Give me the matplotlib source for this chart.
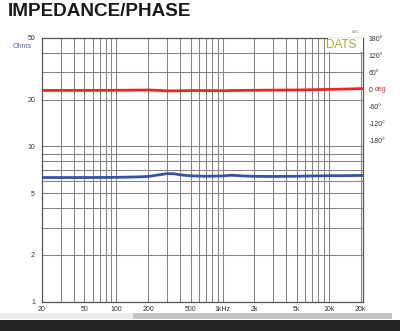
import matplotlib
matplotlib.use("Agg")
import matplotlib.pyplot as plt
from matplotlib.patches import Rectangle
from matplotlib.ticker import FixedLocator, NullLocator

# frequency response
freq = [20, 30, 50, 80, 100, 150, 200, 250, 300, 350, 400, 500, 700,
        1000, 1200, 1500, 2000, 3000, 5000, 7000, 10000, 15000, 21000]
impedance = [6.30, 6.30, 6.30, 6.31, 6.32, 6.35, 6.40, 6.55, 6.68, 6.66,
             6.56, 6.46, 6.42, 6.45, 6.52, 6.46, 6.41, 6.40, 6.42, 6.45,
             6.47, 6.48, 6.50]
phase = [-1.5, -1.5, -1.5, -1.2, -1.0, -0.5, 0.0, -1.5, -3.0, -3.2,
         -2.8, -2.0, -2.0, -2.5, -2.0, -1.5, -1.0, -0.5, 0.0, 1.0,
         2.0, 3.5, 5.0]

x_ticks = [20, 50, 100, 200, 500, 1000, 2000, 5000, 10000, 20000]
x_labels = ["20", "50", "100", "200", "500", "1kHz", "2k", "5k", "10k", "20k"]
x_grid = [30, 40, 50, 60, 70, 80, 90, 100, 200, 300, 400, 500, 600, 700,
          800, 900, 1000, 2000, 3000, 4000, 5000, 6000, 7000, 8000, 9000,
          10000, 20000]
y_ticks = [1, 2, 5, 10, 20, 50]
y_grid = [2, 3, 4, 5, 6, 7, 8, 9, 10, 20, 30, 40]
phase_ticks = [180, 120, 60, 0, -60, -120, -180]
phase_labels = ["180°", "120°", "60°", "0", "-60°", "-120°", "-180°"]

plt.rcParams["font.family"] = ["Liberation Sans", "DejaVu Sans"]

fig = plt.figure(figsize=(4, 3.31), dpi=100)
W, H = 400, 331
ax = fig.add_axes([42 / W, 1 - 301.5 / H, 321 / W, 263.5 / H])

grid_col = "#858585"
for g in x_grid:
    ax.axvline(g, color=grid_col, lw=0.75, zorder=1)
for g in y_grid:
    ax.axhline(g, color=grid_col, lw=0.75, zorder=1)

ax.set_xscale("log")
ax.set_yscale("log")
ax.set_xlim(20, 21000)
ax.set_ylim(1, 50)
ax.plot(freq, impedance, color="#3552a4", lw=2.0, zorder=3)

ax.xaxis.set_major_locator(FixedLocator(x_ticks))
ax.xaxis.set_minor_locator(NullLocator())
ax.set_xticklabels(x_labels)
ax.yaxis.set_major_locator(FixedLocator(y_ticks))
ax.yaxis.set_minor_locator(NullLocator())
ax.set_yticklabels([str(v) for v in y_ticks])
ax.tick_params(axis="both", length=0, labelsize=5, colors="#333333")
ax.tick_params(axis="x", pad=3)
ax.tick_params(axis="y", pad=5)
for sp in ax.spines.values():
    sp.set_color("#555555")
    sp.set_linewidth(0.9)

# phase on the right, 0..±180 squeezed into the upper part
ax2 = ax.twinx()
ax2.set_ylim(-746.5, 183.5)
ax2.plot(freq, phase, color="#e8262a", lw=2.0, zorder=3)
ax2.yaxis.set_major_locator(FixedLocator(phase_ticks))
ax2.set_yticklabels(phase_labels)
ax2.tick_params(axis="y", length=0, labelsize=5, colors="#333333", pad=4)
for sp in ax2.spines.values():
    sp.set_visible(False)
ax2.annotate("deg", xy=(1.0, 0), xycoords=ax2.get_yaxis_transform(),
             xytext=(8.8, 0), textcoords="offset points",
             ha="left", va="center", fontsize=5, color="#e8262a")

fig.text(8 / W, 1 - 3 / H, "IMPEDANCE/PHASE", fontsize=13.6,
         fontweight="bold", color="#1a1a1a", ha="left", va="top")
fig.text(13 / W, 1 - 46 / H, "Ohms", fontsize=5, color="#5566b5",
         ha="left", va="center")
fig.text(359 / W, 1 - 34 / H, "515", fontsize=3, color="#666666",
         ha="right", va="bottom")
fig.add_artist(Rectangle((328 / W, 1 - 52 / H), 34.5 / W, 13.5 / H,
                         transform=fig.transFigure, facecolor="white",
                         edgecolor="none", zorder=5))
fig.text(341 / W, 1 - 45 / H, "DATS", fontsize=8.5, color="#a9a92e",
         ha="center", va="center", zorder=6)

# bottom scroll bar and dark strip
fig.add_artist(Rectangle((0, 1 - 319 / H), 133 / W, 6 / H,
                         transform=fig.transFigure, facecolor="#ececec",
                         edgecolor="none"))
fig.add_artist(Rectangle((133 / W, 1 - 319 / H), 259 / W, 6 / H,
                         transform=fig.transFigure, facecolor="#c4c4c4",
                         edgecolor="none"))
fig.add_artist(Rectangle((0, 0), 1, 11 / H, transform=fig.transFigure,
                         facecolor="#252525", edgecolor="none"))

fig.savefig("out.png", dpi=100)
